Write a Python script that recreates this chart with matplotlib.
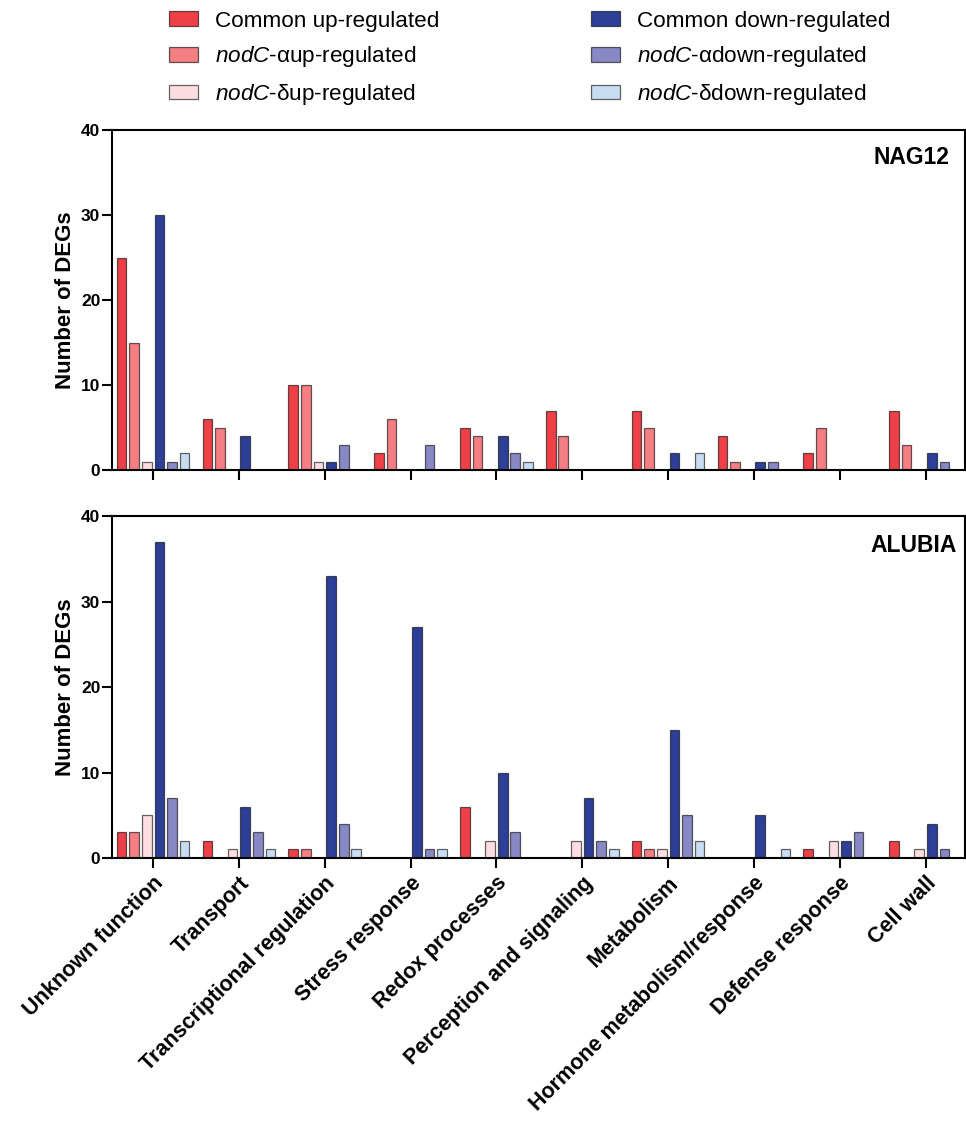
import matplotlib
matplotlib.use("Agg")
import matplotlib.pyplot as plt
from matplotlib.patches import Patch
import numpy as np

plt.rcParams['font.family'] = ['Liberation Sans', 'DejaVu Sans']
plt.rcParams['mathtext.fontset'] = 'custom'
plt.rcParams['mathtext.it'] = 'Liberation Sans:italic'
plt.rcParams['mathtext.rm'] = 'Liberation Sans'

categories = ["Unknown function", "Transport", "Transcriptional regulation",
              "Stress response", "Redox processes", "Perception and signaling",
              "Metabolism", "Hormone metabolism/response", "Defense response",
              "Cell wall"]

series_labels = ["Common up-regulated",
                 r"$\it{nodC}$-αup-regulated",
                 r"$\it{nodC}$-δup-regulated",
                 "Common down-regulated",
                 r"$\it{nodC}$-αdown-regulated",
                 r"$\it{nodC}$-δdown-regulated"]
series_colors = ["#EF4048", "#F47E82", "#FDDDE1", "#2E3F98", "#8889C4", "#C8DDF2"]

# NAG12 panel
nag_common_up = [25, 6, 10, 2, 5, 7, 7, 4, 2, 7]
nag_alpha_up = [15, 5, 10, 6, 4, 4, 5, 1, 5, 3]
nag_delta_up = [1, 0, 1, 0, 0, 0, 0, 0, 0, 0]
nag_common_down = [30, 4, 1, 0, 4, 0, 2, 1, 0, 2]
nag_alpha_down = [1, 0, 3, 3, 2, 0, 0, 1, 0, 1]
nag_delta_down = [2, 0, 0, 0, 1, 0, 2, 0, 0, 0]

# ALUBIA panel
alu_common_up = [3, 2, 1, 0, 6, 0, 2, 0, 1, 2]
alu_alpha_up = [3, 0, 1, 0, 0, 0, 1, 0, 0, 0]
alu_delta_up = [5, 1, 0, 0, 2, 2, 1, 0, 2, 1]
alu_common_down = [37, 6, 33, 27, 10, 7, 15, 5, 2, 4]
alu_alpha_down = [7, 3, 4, 1, 3, 2, 5, 0, 3, 1]
alu_delta_down = [2, 1, 1, 1, 0, 1, 2, 1, 0, 0]

panels = [
    ("NAG12", 0.982, 0.918, [nag_common_up, nag_alpha_up, nag_delta_up,
                             nag_common_down, nag_alpha_down, nag_delta_down]),
    ("ALUBIA", 0.99, 0.915, [alu_common_up, alu_alpha_up, alu_delta_up,
                             alu_common_down, alu_alpha_down, alu_delta_down]),
]

fig = plt.figure(figsize=(9.66, 11.21), dpi=100)
ax_top = fig.add_axes([0.116, 0.5807, 0.883, 0.3033])
ax_bot = fig.add_axes([0.116, 0.2346, 0.883, 0.3050])

x = np.arange(len(categories))
step = 0.147
width = 0.113
edge = (0, 0, 0, 0.6)

for ax, (name, tx, ty, series) in zip([ax_top, ax_bot], panels):
    for j, vals in enumerate(series):
        ax.bar(x + (j - 2.5) * step, vals, width=width, color=series_colors[j],
               edgecolor=edge, linewidth=0.9)
    ax.set_xlim(-0.478, 9.46)
    ax.set_ylim(0, 40)
    ax.set_yticks([0, 10, 20, 30, 40])
    ax.set_xticks(x)
    for s in ax.spines.values():
        s.set_linewidth(1.5)
    ax.tick_params(axis='both', width=1.5, length=7, direction='out',
                   labelsize=12.5)
    ax.tick_params(axis='y', pad=1.5)
    for lab in ax.get_yticklabels():
        lab.set_fontweight('bold')
    ax.set_ylabel("Number of DEGs", fontsize=16, fontweight='bold', labelpad=3.5)
    ax.text(tx, ty, name, transform=ax.transAxes, ha='right', va='center',
            fontsize=16.5, fontweight='bold')

ax_top.set_xticklabels([])
ax_bot.set_xticklabels(categories, rotation=45, ha='right', va='top',
                       rotation_mode='anchor', fontsize=15.5, fontweight='bold')

handles = [Patch(facecolor=c, edgecolor=edge, linewidth=0.9) for c in series_colors]
fig.legend(handles, series_labels, ncol=2, loc='upper left',
           bbox_to_anchor=(0.175, 0.9905), frameon=False, fontsize=16.2,
           handlelength=1.29, handleheight=0.62, handletextpad=0.75,
           labelspacing=0.56, columnspacing=6.76, borderaxespad=0, borderpad=0)

fig.savefig("out.png", dpi=100)
